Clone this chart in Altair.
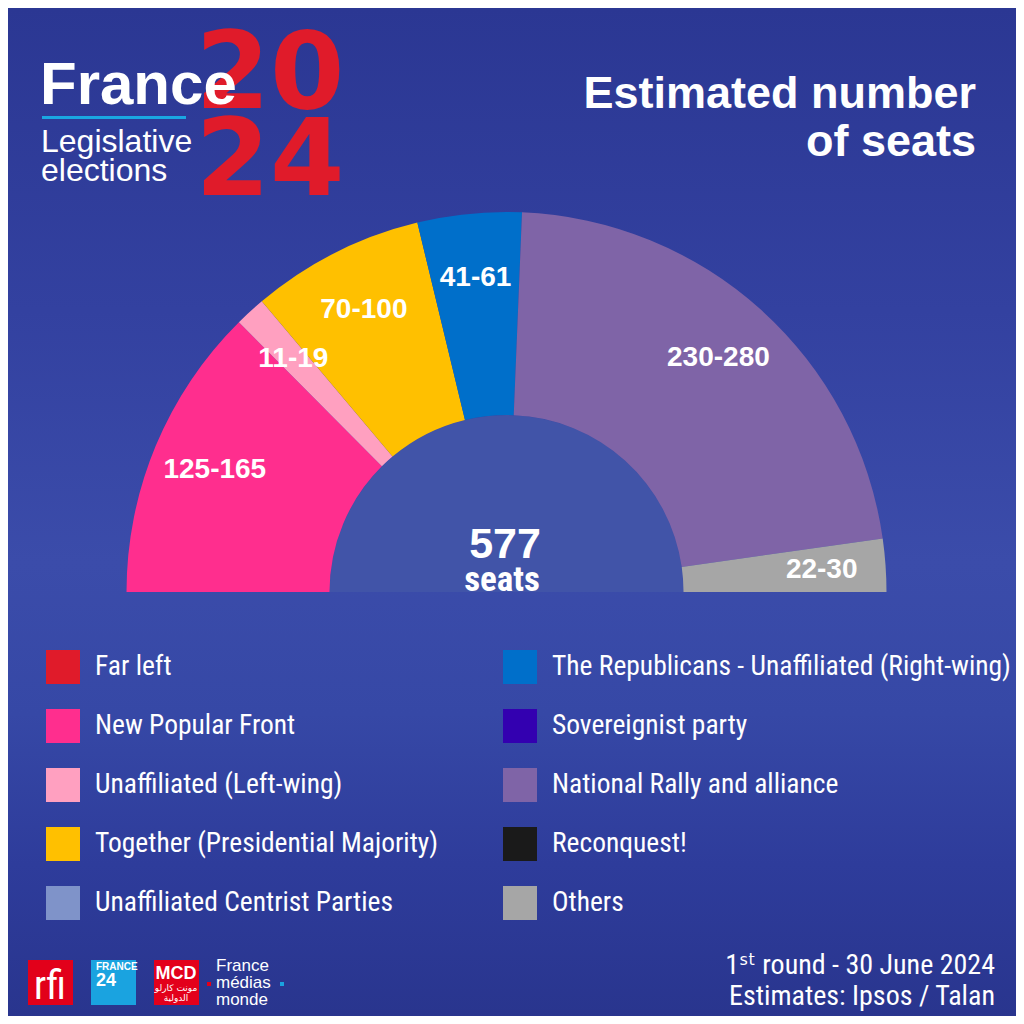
import math
import altair as alt
import pandas as pd

# ---------------- data ----------------
parties = [
    "New Popular Front",
    "Unaffiliated (Left-wing)",
    "Together (Presidential Majority)",
    "The Republicans - Unaffiliated (Right-wing)",
    "National Rally and alliance",
    "Others",
]
seats = [145, 15, 85, 51, 255, 26]          # mid-point of each estimated range (sum 577)
range_labels = ["125-165", "11-19", "70-100", "41-61", "230-280", "22-30"]

legend_left = [
    "Far left",
    "New Popular Front",
    "Unaffiliated (Left-wing)",
    "Together (Presidential Majority)",
    "Unaffiliated Centrist Parties",
]
legend_right = [
    "The Republicans - Unaffiliated (Right-wing)",
    "Sovereignist party",
    "National Rally and alliance",
    "Reconquest!",
    "Others",
]
colors_left = ["#e01b2a", "#ff2e8e", "#ffa0c0", "#ffc000", "#7f93c9"]
colors_right = ["#006fca", "#3300b0", "#7f64a7", "#1a1a1a", "#a6a6a6"]

total_seats = "577"

# ---------------- layout helpers ----------------
W, H = 1008, 1008
M = 8  # page margin: reference pixel -> chart pixel
CX, CY = 506.5 - M, 592 - M
R_OUT, R_IN = 380, 177

NARROW = "Liberation Sans Narrow, Roboto Condensed, DejaVu Sans Condensed, Liberation Sans, sans-serif"
SANS = "Liberation Sans, Arial, sans-serif"

# legend fills column by column
dom = legend_left + legend_right
rng = colors_left + colors_right

df = pd.DataFrame({"party": parties, "seats": seats, "label": range_labels,
                   "idx": list(range(len(parties)))})
one = pd.DataFrame({"k": [0]})

theta = alt.Theta("seats:Q", stack=True,
                  scale=alt.Scale(range=[1.5 * math.pi, 2.5 * math.pi]))

bg = alt.Chart(one).mark_rect(
    fill=alt.Gradient(
        gradient="linear", x1=0, y1=0, x2=0, y2=1,
        stops=[
            alt.GradientStop(offset=0, color="#2b3793"),
            alt.GradientStop(offset=0.3, color="#3341a0"),
            alt.GradientStop(offset=0.55, color="#3b4caa"),
            alt.GradientStop(offset=0.7, color="#3648a6"),
            alt.GradientStop(offset=0.85, color="#2e3c9b"),
            alt.GradientStop(offset=1, color="#29358e"),
        ],
    )
).encode(x=alt.value(0), x2=alt.value(W), y=alt.value(0), y2=alt.value(H))

hole = alt.Chart(one).mark_arc(
    radius=R_IN, theta=1.5 * math.pi, theta2=2.5 * math.pi, fill="#4154a8"
).encode(x=alt.value(CX), y=alt.value(CY))

arcs = alt.Chart(df).mark_arc(radius=R_OUT, innerRadius=R_IN).encode(
    theta=theta,
    order=alt.Order("idx:Q"),
    color=alt.Color(
        "party:N",
        scale=alt.Scale(domain=dom, range=rng),
        legend=alt.Legend(
            title=None, orient="none", legendX=38, legendY=642, columns=2,
            symbolType="square", symbolSize=1156, symbolStrokeWidth=0,
            symbolOpacity=1, labelFont=NARROW, labelFontSize=27.5,
            labelColor="white", labelLimit=800, labelOffset=15,
            rowPadding=25, columnPadding=64, padding=0,
        ),
    ),
    x=alt.value(CX), y=alt.value(CY),
)

labels = alt.Chart(df).mark_text(
    radius=316, font=SANS, fontSize=28, fontWeight="bold", color="white",
    align="center", baseline="middle",
).encode(
    theta=theta, order=alt.Order("idx:Q"), detail="party:N", text="label:N",
    x=alt.value(CX), y=alt.value(CY),
)


def txt(text, x, y, size, font=SANS, weight="normal", color="white", align="left"):
    return alt.Chart(one).mark_text(
        text=text, font=font, fontSize=size, fontWeight=weight, color=color,
        align=align, baseline="alphabetic",
    ).encode(x=alt.value(x - M), y=alt.value(y - M))


def box(x1, y1, x2, y2, color):
    return alt.Chart(one).mark_rect(fill=color).encode(
        x=alt.value(x1 - M), x2=alt.value(x2 - M),
        y=alt.value(y1 - M), y2=alt.value(y2 - M))


center = [
    txt(total_seats, 505, 558, 43, weight="bold", align="center"),
    txt("seats", 502, 591, 35, font=NARROW, weight="bold", align="center"),
]

logo = [
    txt("20", 270, 108, 107, font="DejaVu Sans", weight="bold", color="#e01b2a", align="center"),
    txt("24", 270, 195, 107, font="DejaVu Sans", weight="bold", color="#e01b2a", align="center"),
    txt("France", 40, 104, 60, weight="bold"),
    box(42, 116, 186, 119, "#1aa7e2"),
    txt("Legislative", 41, 152, 32),
    txt("elections", 41, 181, 32),
]

title = [
    txt("Estimated number", 976, 108, 45, weight="bold", align="right"),
    txt("of seats", 976, 156, 45, weight="bold", align="right"),
]

footer = [
    txt("1ˢᵗ round - 30 June 2024", 995, 974, 28, font=NARROW, align="right"),
    txt("Estimates: Ipsos / Talan", 995, 1005, 28, font=NARROW, align="right"),
    box(28, 960, 73, 1005, "#e2001a"),
    txt("rfi", 50, 999, 40, font=NARROW, align="center"),
    box(91, 960, 136, 1005, "#1aa3e0"),
    txt("FRANCE", 96, 970, 10, weight="bold"),
    txt("24", 96, 986, 18, weight="bold"),
    box(154, 960, 199, 1005, "#e3001b"),
    txt("MCD", 176, 979, 18, weight="bold", align="center"),
    txt("مونت كارلو", 176, 991, 9, font="DejaVu Sans", align="center"),
    txt("الدولية", 176, 1001, 9, font="DejaVu Sans", align="center"),
    txt("France", 216, 971, 17),
    txt("médias", 216, 988, 17),
    txt("monde", 216, 1005, 17),
    box(207, 982, 211, 986, "#e2001a"),
    box(280, 982, 284, 986, "#1aa3e0"),
]

chart = alt.layer(
    bg, hole, arcs, labels, *center, *logo, *title, *footer
).properties(
    width=W, height=H,
    autosize=alt.AutoSizeParams(type="none"),
    padding=0,
).configure_view(stroke=None).configure(background="#2d3996")

chart.save("out.html", embed_options={"renderer": "svg", "actions": False})
